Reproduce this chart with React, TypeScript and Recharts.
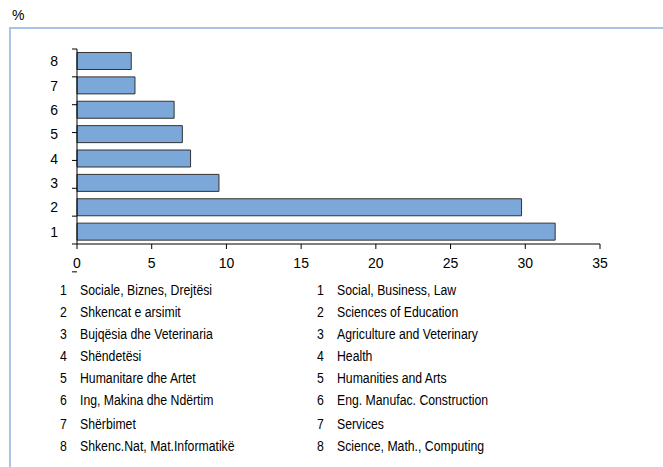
import React from "react";
import { BarChart, Bar, XAxis, YAxis } from "recharts";

const categories = ["1", "2", "3", "4", "5", "6", "7", "8"];
const values = [32.0, 29.75, 9.5, 7.6, 7.05, 6.5, 3.88, 3.63];
const xTicks = [0, 5, 10, 15, 20, 25, 30, 35];
const boundaryTicks = [0, 1, 2, 3, 4, 5, 6, 7, 8];
const albanianLabels = [
  "Sociale, Biznes, Drejtësi",
  "Shkencat e arsimit",
  "Bujqësia dhe Veterinaria",
  "Shëndetësi",
  "Humanitare dhe Artet",
  "Ing, Makina dhe Ndërtim",
  "Shërbimet",
  "Shkenc.Nat, Mat.Informatikë",
];
const englishLabels = [
  "Social, Business, Law",
  "Sciences of Education",
  "Agriculture and Veterinary",
  "Health",
  "Humanities and Arts",
  "Eng. Manufac. Construction",
  "Services",
  "Science, Math., Computing",
];
const legendRowY = [290, 312, 334, 356, 378, 400, 424, 446];

const data = categories.map((c, i) => ({ name: c, value: values[i] }));

const font = "'Liberation Sans', Arial, sans-serif";

const legendText: React.CSSProperties = {
  position: "absolute",
  fontSize: 14,
  lineHeight: "18px",
  color: "#000",
  whiteSpace: "nowrap",
  transform: "scaleX(0.875)",
  transformOrigin: "left center",
};

export default function App() {
  return (
    <div style={{ position: "absolute", left: 0, top: 0, width: 663, height: 467, background: "#fff", fontFamily: font, overflow: "hidden" }}>
      <div style={{ position: "absolute", left: 12, top: 7, fontSize: 14, lineHeight: "16px", color: "#000" }}>%</div>
      <div style={{ position: "absolute", left: 9, top: 27, width: 660, height: 450, borderLeft: "2px solid #a9c5e6", borderTop: "2px solid #a9c5e6" }} />
      <div style={{ position: "absolute", left: 0, top: 0 }}>
        <BarChart
          width={663}
          height={467}
          data={data}
          layout="vertical"
          margin={{ top: 49, right: 63, bottom: 193, left: 46 }}
          barCategoryGap={3.5}
        >
          <XAxis
            type="number"
            domain={[0, 35]}
            ticks={xTicks}
            height={30}
            axisLine={{ stroke: "#000" }}
            tickLine={{ stroke: "#000" }}
            tickSize={5}
            tickMargin={9}
            tick={{ fill: "#000", fontSize: 14, fontFamily: font }}
            interval={0}
          />
          <YAxis
            yAxisId="cat"
            type="category"
            dataKey="name"
            reversed
            width={30}
            axisLine={false}
            tickLine={false}
            tickMargin={12}
            tick={{ fill: "#000", fontSize: 14, fontFamily: font }}
            interval={0}
          />
          <YAxis
            yAxisId="a"
            type="number"
            domain={[0, 8]}
            ticks={boundaryTicks}
            allowDataOverflow
            width={1}
            tickFormatter={() => ""}
            axisLine={{ stroke: "#000" }}
            tickLine={{ stroke: "#000" }}
            tickSize={5}
            interval={0}
          />
          <Bar yAxisId="cat" dataKey="value" fill="#7ba7d9" stroke="#333" strokeWidth={1} isAnimationActive={false} />
        </BarChart>
      </div>
      {categories.map((c, i) => (
        <React.Fragment key={c}>
          <div style={{ ...legendText, left: 60, top: legendRowY[i] - 9 }}>{c}</div>
          <div style={{ ...legendText, left: 80, top: legendRowY[i] - 9 }}>{albanianLabels[i]}</div>
          <div style={{ ...legendText, left: 317, top: legendRowY[i] - 9 }}>{c}</div>
          <div style={{ ...legendText, left: 337, top: legendRowY[i] - 9 }}>{englishLabels[i]}</div>
        </React.Fragment>
      ))}
    </div>
  );
}
